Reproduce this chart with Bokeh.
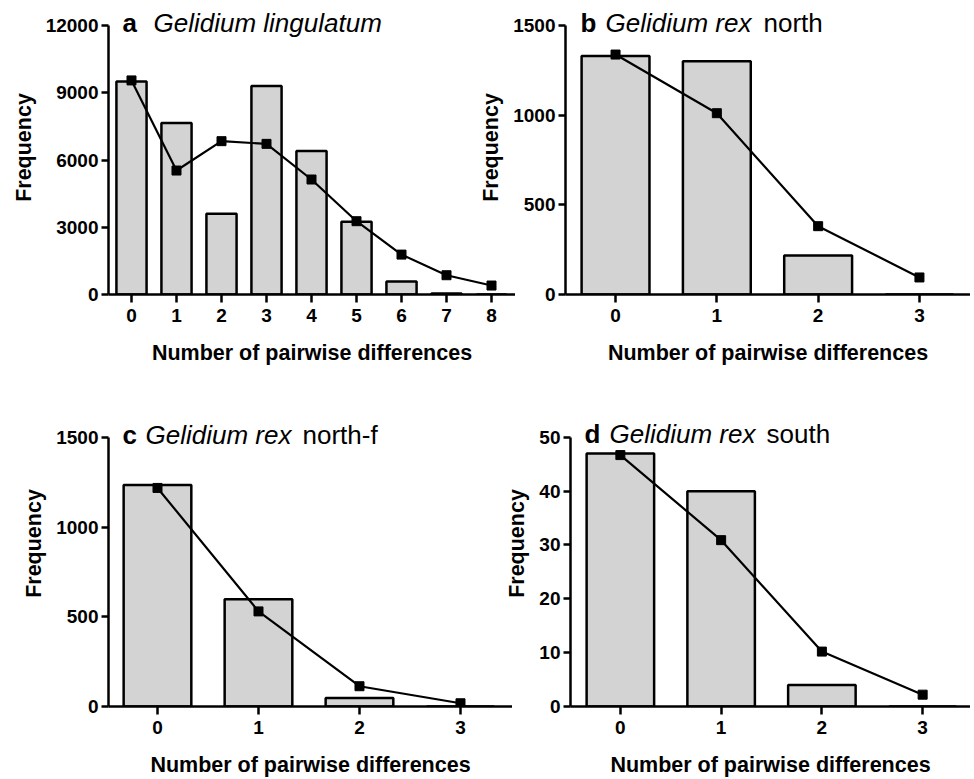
from bokeh.plotting import figure
from bokeh.layouts import row, column
from bokeh.models import FixedTicker, Range1d, Label
from bokeh.embed import file_html
from bokeh.resources import INLINE

FONT = "Liberation Sans"

# ---- data ----
a_k = [0, 1, 2, 3, 4, 5, 6, 7, 8]
a_observed = [9500, 7650, 3600, 9300, 6400, 3250, 580, 40, 0]
a_expected = [9550, 5530, 6840, 6720, 5130, 3270, 1780, 860, 400]
a_yticks = [0, 3000, 6000, 9000, 12000]

b_k = [0, 1, 2, 3]
b_observed = [1330, 1300, 217, 0]
b_expected = [1338, 1011, 381, 95]
b_yticks = [0, 500, 1000, 1500]

c_k = [0, 1, 2, 3]
c_observed = [1235, 598, 47, 0]
c_expected = [1218, 530, 113, 18]
c_yticks = [0, 500, 1000, 1500]

d_k = [0, 1, 2, 3]
d_observed = [47, 40, 4, 0]
d_expected = [46.7, 30.9, 10.2, 2.2]
d_yticks = [0, 10, 20, 30, 40, 50]

a_title = ["a", "Gelidium lingulatum", ""]
b_title = ["b", "Gelidium rex", "north"]
c_title = ["c", "Gelidium rex", "north-f"]
d_title = ["d", "Gelidium rex", "south"]

x_label = "Number of pairwise differences"
y_label = "Frequency"


def panel(k, obs, exp, yticks, xr, title, offs, width, height, bl, bb,
          axis_px, head_px, transparent=False):
    # head_px: blank space in the frame above the top tick (for the panel title)
    ytop = yticks[-1]
    yend = ytop * (axis_px + head_px) / axis_px
    p = figure(width=width, height=height, output_backend="svg", toolbar_location=None,
               x_range=Range1d(*xr), y_range=Range1d(yticks[0], yend),
               min_border_left=bl, min_border_top=0, min_border_bottom=bb, min_border_right=0)
    p.outline_line_color = None
    p.grid.visible = False
    if transparent:
        p.border_fill_color = None
        p.background_fill_color = None

    p.vbar(x=k, top=obs, bottom=0, width=0.67, fill_color="#d3d3d3",
           line_color="black", line_width=2.5)
    p.line(k, exp, line_color="black", line_width=2.2)
    p.scatter(k, exp, marker="square", size=9, color="black")

    for ax in (p.xaxis[0], p.yaxis[0]):
        ax.axis_line_width = 2.5
        ax.major_tick_line_width = 2.5
        ax.major_tick_in = 0
        ax.minor_tick_line_color = None
        ax.major_label_text_font = FONT
        ax.major_label_text_font_style = "bold"
        ax.major_label_text_font_size = "19px"
        ax.major_label_text_color = "black"
        ax.axis_label_text_font = FONT
        ax.axis_label_text_font_style = "bold"
        ax.axis_label_text_font_size = "21.5px"
        ax.axis_label_text_color = "black"
    p.xaxis.ticker = FixedTicker(ticks=k)
    p.yaxis.ticker = FixedTicker(ticks=yticks)
    p.yaxis.bounds = (yticks[0], ytop)
    p.xaxis.major_tick_out = 8
    p.yaxis.major_tick_out = 7
    p.xaxis.major_label_standoff = 6
    p.yaxis.major_label_standoff = 3
    p.xaxis.axis_label = x_label
    p.yaxis.axis_label = y_label
    p.xaxis.axis_label_standoff = 16
    p.yaxis.axis_label_standoff = 7

    styles = ["bold", "italic", "normal"]
    for txt, st, xo in zip(title, styles, offs[:3]):
        if not txt:
            continue
        p.add_layout(Label(x=xr[0], y=ytop, x_units="data", y_units="data",
                           x_offset=xo, y_offset=offs[3], text=txt, text_font=FONT,
                           text_font_size="26px", text_font_style=st,
                           text_baseline="alphabetic", text_align="left",
                           text_color="black"))
    return p


pa = panel(a_k, a_observed, a_expected, a_yticks, (-0.511, 8.533), a_title,
           (14, 45, 0, 3), 515, 380, 108, 86, 269, 25)
pb = panel(b_k, b_observed, b_expected, b_yticks, (-0.494, 3.504), b_title,
           (15, 40, 198, 3), 496, 380, 91, 86, 269, 25, transparent=True)
pb.margin = (0, 0, 0, -41)

pc = panel(c_k, c_observed, c_expected, c_yticks, (-0.485, 3.515), c_title,
           (14, 37, 194, 2), 512, 399, 108, 72, 270, 57)
pd = panel(d_k, d_observed, d_expected, d_yticks, (-0.495, 3.475), d_title,
           (14, 39, 196, 3), 468, 399, 67, 72, 270, 57, transparent=True)
pd.margin = (0, 0, 0, -10)

layout = column(row(pa, pb), row(pc, pd))

open("out.html", "w").write(file_html(layout, INLINE))
